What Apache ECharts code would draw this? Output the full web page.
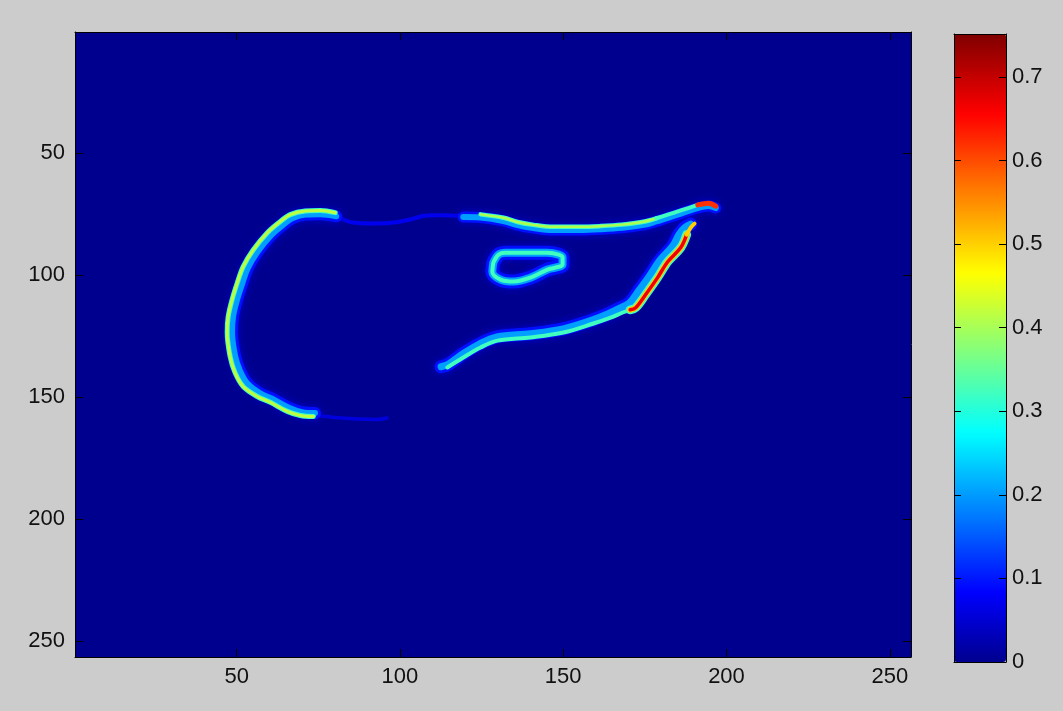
<!DOCTYPE html>
<html><head><meta charset="utf-8">
<script src="https://cdn.jsdelivr.net/npm/echarts@6/dist/echarts.min.js"></script>
<style>html,body{margin:0;padding:0;background:#cccccc;}#c{width:1063px;height:711px;}</style>
</head><body><div id="c"></div>
<script>
// ---- data ----
const imageSize = 256;
const xTicks = [50, 100, 150, 200, 250];
const yTicks = [50, 100, 150, 200, 250];
const cbTicks = [0, 0.1, 0.2, 0.3, 0.4, 0.5, 0.6, 0.7];
const cMin = 0;
const cMax = 0.7515;

// contour traces (image column, image row)
const cCenter = [[80.5,76.0],[75.6,75.2],[71.2,75.3],[67.0,76.8],[64.2,79.5],[60.5,83.8],[56.4,90.5],[53.4,97.2],[51.7,103.6],[50.1,110.3],[48.9,117.1],[48.6,123.6],[49.5,133.0],[51.0,139.2],[53.3,144.5],[57.2,148.5],[61.0,150.8],[66.0,154.4],[70.0,156.2],[74.0,156.6]];
const cEdge = [[80.2,74.5],[75.6,73.6],[71.0,73.8],[66.4,75.3],[63.3,78.2],[59.4,82.7],[55.1,89.7],[52.0,96.6],[50.2,103.2],[48.6,110.1],[47.4,117.1],[47.1,123.6],[48.0,133.4],[49.5,140.0],[52.0,145.7],[56.3,149.8],[60.3,152.2],[65.5,155.9],[69.5,157.6],[73.5,158.0]];
const topConnector = [[80.5,75.5],[85,78.4],[92,78.9],[99,78.4],[104,77.0],[107.5,75.8],[112,75.6],[119.4,76.0]];
const bottomConnector = [[74,157.5],[80,158.4],[87,159.0],[93,159.2],[96,158.6]];
const topLineCenter = [[119.4,76.3],[124.7,76.5],[131.7,77.9],[136,79.6],[140.9,80.8],[147,81.6],[155,81.6],[161.5,81.3],[168,80.7],[174.6,79.5],[178.5,78.1],[182,76.6],[186,74.9],[191.2,72.6],[194.5,71.8],[196.7,72.6]];
const topLineEdge = [[124.7,75.2],[131.7,76.6],[136,78.3],[140.9,79.5],[147,80.3],[155,80.3],[161.5,80.0],[168,79.4],[174.6,78.2],[178.5,76.8]];
const topLineEdgeEnd = [[178.5,76.8],[182,75.3],[186,73.6],[191.2,71.3]];
const tipEdge = [[191.2,71.3],[194.5,70.6],[196.7,71.8]];
const lowerCenter = [[112.6,137.6],[114.8,136.6],[119.2,132.4],[124.3,128.3],[129.7,125.4],[140,124.1],[150,122.1],[158.8,118.5],[163.6,116.0],[167,113.8],[170.2,111.6],[172.8,107],[176.4,100.4],[179.6,94.0],[183.5,88.2],[185.5,83.3],[187.2,80.6],[189,79.2]];
const lowerEdgeBottom = [[114.5,137.9],[119.4,133.8],[124.7,129.7],[129.9,126.9],[140.0,125.6],[150.1,123.6],[159.3,119.9],[164.5,117.5],[168.2,115.4],[171.0,114.0]];
const lowerEdgeDiagonal = [[170.5,114.3],[172.2,113.4],[175.2,108.1],[178.9,101.1],[182.0,94.6],[186.0,88.8],[187.8,83.5]];
const lowerEdgeTop = [[187.8,83.5],[189.0,80.7],[190.2,79.0]];
const ringCenter = [[128.6,95.0],[130.2,91.7],[132.3,90.9],[136.9,90.9],[141.5,90.9],[145.2,90.9],[148.6,91.7],[149.8,92.9],[149.8,95.8],[147.6,97.0],[145.2,97.8],[140.0,101.1],[134.8,102.7],[130.8,101.9],[128.3,98.7],[128.6,95.0]];

// intensity levels
const haloValue = 0.1;
const bandValue = 0.2;
const coreValue = 0.32;
const cEdgeValue = 0.42;
const topEdgeValue = 0.4;
const tipValue = 0.62;
const diagEdgeValue = 0.66;
const diagMidValue = 0.5;
const connectorValue = 0.08;
const bottomConnectorValue = 0.07;

// ---- MATLAB jet colormap (64) ----
function jetMap(m) {
  const n = Math.ceil(m / 4);
  const u = [];
  for (let i = 1; i <= n; i++) u.push(i / n);
  for (let i = 1; i <= n - 1; i++) u.push(1);
  for (let i = n; i >= 1; i--) u.push(i / n);
  const g0 = Math.ceil(n / 2) - (m % 4 === 1 ? 1 : 0);
  const r = new Array(m).fill(0), g = new Array(m).fill(0), b = new Array(m).fill(0);
  for (let k = 0; k < u.length; k++) {
    const gi = g0 + k + 1, ri = gi + n, bi = gi - n;
    if (gi >= 1 && gi <= m) g[gi - 1] = u[k];
    if (ri >= 1 && ri <= m) r[ri - 1] = u[k];
    if (bi >= 1 && bi <= m) b[bi - 1] = u[k];
  }
  const out = [];
  for (let i = 0; i < m; i++) {
    const h = v => Math.round(v * 255).toString(16).padStart(2, '0');
    out.push('#' + h(r[i]) + h(g[i]) + h(b[i]));
  }
  return out;
}
const jet = jetMap(64);
function jetColor(v) {
  let i = Math.floor((v - cMin) / (cMax - cMin) * 64);
  return jet[Math.max(0, Math.min(63, i))];
}

function layer(points, value, width, extra) {
  return {
    type: 'line', xAxisIndex: 0, yAxisIndex: 0, data: points,
    symbol: 'none', silent: true, smooth: 0.35, animation: false,
    lineStyle: Object.assign({ color: jetColor(value), width: width, cap: 'round', join: 'round' }, extra || {})
  };
}
const glow = { shadowBlur: 7, shadowColor: jetColor(0.05) };

const series = [
  layer(topConnector, connectorValue, 4),
  layer(bottomConnector, bottomConnectorValue, 3.5),
  layer(cCenter, haloValue, 12, glow),
  layer(topLineCenter, haloValue, 11, glow),
  layer(lowerCenter, haloValue, 13, glow),
  layer(ringCenter, haloValue, 14, glow),
  layer(cCenter, bandValue, 6),
  layer(topLineCenter, bandValue, 6),
  layer(lowerCenter, bandValue, 7),
  layer(ringCenter, bandValue, 8),
  layer(ringCenter, coreValue, 4),
  layer(cEdge, coreValue, 5),
  layer(cEdge, cEdgeValue, 3),
  layer(topLineEdge, coreValue, 4.5),
  layer(topLineEdge, topEdgeValue, 2.5),
  layer(topLineEdgeEnd, coreValue, 4),
  layer(tipEdge, tipValue, 5),
  layer(lowerEdgeBottom, coreValue, 4),
  layer(lowerEdgeDiagonal, coreValue, 9),
  layer(lowerEdgeDiagonal, diagMidValue, 6),
  layer(lowerEdgeDiagonal, diagEdgeValue, 3.5),
  layer(lowerEdgeTop, diagMidValue, 4)
];

const font = { fontFamily: 'Liberation Sans, Arial, sans-serif', fontSize: 22, color: '#111' };
const lineBlack = { show: true, onZero: false, lineStyle: { color: '#000', width: 1 } };

const chart = echarts.init(document.getElementById('c'), null, { renderer: 'canvas' });
chart.setOption({
  animation: false,
  backgroundColor: '#cccccc',
  grid: [
    { left: 75, top: 32, width: 836, height: 625, show: true, backgroundColor: jetColor(0), borderWidth: 0 },
    { left: 954, top: 34, width: 52, height: 628, show: false }
  ],
  xAxis: [
    { gridIndex: 0, type: 'value', position: 'bottom', min: 0.5, max: imageSize + 0.5, z: 5,
      axisLine: lineBlack, splitLine: { show: false },
      axisTick: { show: true, inside: true, length: 8, customValues: xTicks, lineStyle: { color: '#000' } },
      axisLabel: Object.assign({ show: true, margin: 9, customValues: xTicks }, font) },
    { gridIndex: 0, type: 'value', position: 'top', min: 0.5, max: imageSize + 0.5, z: 5,
      axisLine: lineBlack, splitLine: { show: false },
      axisTick: { show: true, inside: true, length: 8, customValues: xTicks, lineStyle: { color: '#000' } },
      axisLabel: { show: false } },
    { gridIndex: 1, type: 'value', position: 'bottom', min: 0, max: 1, z: 10,
      axisLine: lineBlack, splitLine: { show: false }, axisTick: { show: false }, axisLabel: { show: false } },
    { gridIndex: 1, type: 'value', position: 'top', min: 0, max: 1, z: 10,
      axisLine: lineBlack, splitLine: { show: false }, axisTick: { show: false }, axisLabel: { show: false } }
  ],
  yAxis: [
    { gridIndex: 0, type: 'value', position: 'left', inverse: true, min: 0.5, max: imageSize + 0.5, z: 5,
      axisLine: lineBlack, splitLine: { show: false },
      axisTick: { show: true, inside: true, length: 8, customValues: yTicks, lineStyle: { color: '#000' } },
      axisLabel: Object.assign({ show: true, margin: 10, customValues: yTicks }, font) },
    { gridIndex: 0, type: 'value', position: 'right', inverse: true, min: 0.5, max: imageSize + 0.5, z: 5,
      axisLine: lineBlack, splitLine: { show: false },
      axisTick: { show: true, inside: true, length: 8, customValues: yTicks, lineStyle: { color: '#000' } },
      axisLabel: { show: false } },
    { gridIndex: 1, type: 'value', position: 'right', min: cMin, max: cMax, z: 10,
      axisLine: lineBlack, splitLine: { show: false },
      axisTick: { show: true, inside: true, length: 7, customValues: cbTicks, lineStyle: { color: '#000' } },
      axisLabel: Object.assign({ show: true, margin: 6, customValues: cbTicks, formatter: v => String(v) }, font) },
    { gridIndex: 1, type: 'value', position: 'left', min: cMin, max: cMax, z: 10,
      axisLine: lineBlack, splitLine: { show: false },
      axisTick: { show: true, inside: true, length: 7, customValues: cbTicks, lineStyle: { color: '#000' } },
      axisLabel: { show: false } }
  ],
  visualMap: [{
    type: 'continuous', min: cMin, max: cMax, calculable: false, hoverLink: false, z: 1,
    left: 954, top: 34, itemWidth: 52, itemHeight: 628, padding: 0,
    seriesIndex: [], inRange: { color: jet }, showLabel: false
  }],
  series: series
});
</script></body></html>
